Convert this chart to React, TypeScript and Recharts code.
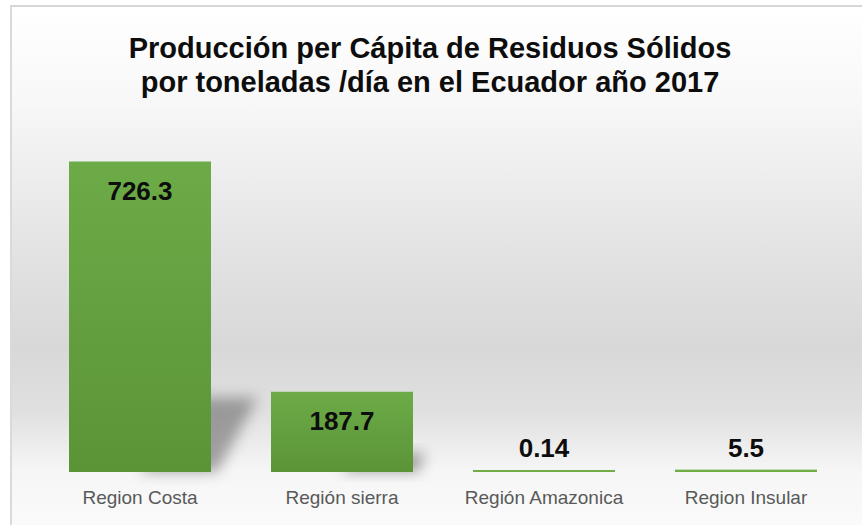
import React from 'react';
import { BarChart, Bar, XAxis, YAxis, LabelList } from 'recharts';

const categories = ['Region Costa', 'Región sierra', 'Región Amazonica', 'Region Insular'];
const values = [726.3, 187.7, 0.14, 5.5];
const valueLabels = ['726.3', '187.7', '0.14', '5.5'];
const titleLines = [
  'Producción per Cápita de Residuos Sólidos',
  'por toneladas /día en el Ecuador año 2017',
];

const data = categories.map((c, i) => ({ name: c, value: values[i], label: valueLabels[i] }));

const FONT = '"Liberation Sans", Arial, sans-serif';

const BarShape = (props: any) => {
  const { x, y, width, height } = props;
  const bottom = y + height;
  const sh = height * 0.24;
  const sx = height * 0.15;
  const pts = `${x + width * 0.5},${bottom} ${x + width + 6},${bottom} ${x + width + sx},${bottom - sh} ${x + width * 0.5 + sx},${bottom - sh}`;
  return (
    <g>
      {height > 20 && (
        <polygon points={pts} fill="#6a6a6a" opacity={0.6} filter="url(#shadowBlur)" />
      )}
      <rect x={x} y={y} width={width} height={height} fill={height > 4 ? 'url(#barGrad)' : '#70ad47'} />
    </g>
  );
};

const renderLabel = (props: any) => {
  const { x, y, width, height, value } = props;
  const cx = x + width / 2;
  const cy = height > 40 ? y + 29 : y - 22;
  return (
    <text
      x={cx}
      y={cy}
      textAnchor="middle"
      dominantBaseline="central"
      fontFamily={FONT}
      fontWeight="bold"
      fontSize={26}
      fill="#0d0d0d"
    >
      {value}
    </text>
  );
};

const Tick = (props: any) => {
  const { x, y, payload } = props;
  return (
    <text x={x} y={y} dy={25} textAnchor="middle" dominantBaseline="central" fontFamily={FONT} fontSize={19} fill="#595959">
      {payload.value}
    </text>
  );
};

export default function App() {
  return (
    <div style={{ position: 'fixed', left: 0, top: 0, width: 862, height: 525, overflow: 'hidden', background: '#fff' }}>
      <div
        style={{
          position: 'absolute',
          left: 10,
          top: 5,
          width: 870,
          height: 540,
          borderTop: '2px solid #d6d6d6',
          borderLeft: '2px solid #dadada',
          background:
            'linear-gradient(to bottom, #ffffff 0%, #f8f8f8 17%, #e3e3e3 45%, #d8d8d8 63%, #e0e0e0 75%, #f6f6f6 86%, #fcfcfc 100%)',
        }}
      />
      <div
        style={{
          position: 'absolute',
          left: 0,
          top: 31,
          width: 860,
          textAlign: 'center',
          fontFamily: FONT,
          fontWeight: 'bold',
          fontSize: 29,
          lineHeight: '34px',
          color: '#0d0d0d',
        }}
      >
        {titleLines.map((t) => (
          <div key={t}>{t}</div>
        ))}
      </div>
      <div style={{ position: 'absolute', left: 0, top: 0 }}>
        <BarChart width={862} height={525} data={data} margin={{ top: 130, right: 15, bottom: 0, left: 39 }}>
          <defs>
            <linearGradient id="barGrad" x1="0" y1="0" x2="0" y2="1">
              <stop offset="0%" stopColor="#6cab47" />
              <stop offset="100%" stopColor="#5b9437" />
            </linearGradient>
            <filter id="shadowBlur" x="-50%" y="-50%" width="200%" height="200%">
              <feGaussianBlur stdDeviation="7" />
            </filter>
          </defs>
          <YAxis hide domain={[0, 800]} />
          <XAxis
            dataKey="name"
            height={53}
            axisLine={false}
            tickLine={false}
            tickSize={0}
            tickMargin={0}
            tick={<Tick />}
            interval={0}
          />
          <Bar dataKey="value" barSize={142} minPointSize={2} shape={<BarShape />} isAnimationActive={false}>
            <LabelList dataKey="label" content={renderLabel} />
          </Bar>
        </BarChart>
      </div>
    </div>
  );
}
